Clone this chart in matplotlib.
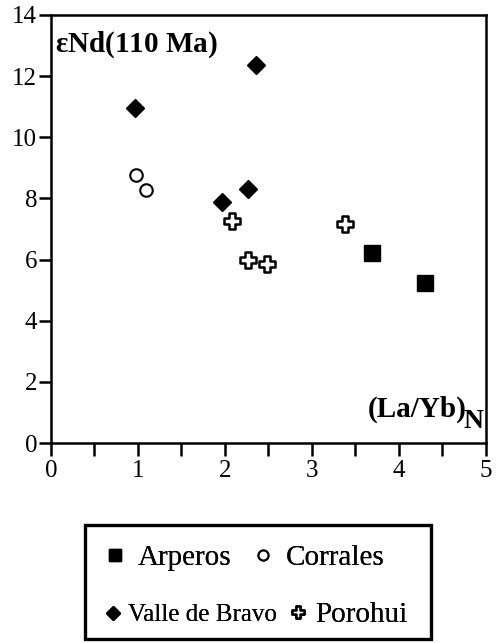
import numpy as np
import matplotlib.pyplot as plt
from matplotlib.path import Path
from matplotlib.patches import Rectangle

plt.rcParams['font.family'] = ['Liberation Serif', 'DejaVu Serif']

# data
arperos_x = [3.69, 4.30]
arperos_y = [6.20, 5.24]
corrales_x = [0.98, 1.09]
corrales_y = [8.77, 8.28]
valle_x = [0.97, 2.36, 1.97, 2.27]
valle_y = [10.97, 12.36, 7.89, 8.30]
porohui_x = [2.08, 2.27, 2.48, 3.38]
porohui_y = [7.25, 5.99, 5.85, 7.16]

# plus-shaped marker
a, b = 0.35, 1.0
verts = [(-a, b), (a, b), (a, a), (b, a), (b, -a), (a, -a), (a, -b), (-a, -b),
         (-a, -a), (-b, -a), (-b, a), (-a, a), (-a, b)]
plus = Path(verts, closed=True)

fig = plt.figure(figsize=(4.96, 6.43), dpi=100)
ax = fig.add_axes([0.1028, 0.311, 0.877, 0.6657])

h1, = ax.plot(arperos_x, arperos_y, 's', color='black', ms=11, ls='none', label='Arperos')
h2, = ax.plot(corrales_x, corrales_y, 'o', mfc='white', mec='black', mew=1.5, ms=9, ls='none', label='Corrales')
h3, = ax.plot(valle_x, valle_y, 'D', color='black', ms=9, ls='none', label='Valle de Bravo')
h4, = ax.plot(porohui_x, porohui_y, marker=plus, mfc='white', mec='black', mew=1.8, ms=11, ls='none', label='Porohui')

ax.set_xlim(0, 5)
ax.set_ylim(0, 14)
ax.set_xticks(np.arange(0, 6, 1))
ax.set_xticks(np.arange(0.5, 5, 1), minor=True)
ax.set_yticks(np.arange(0, 15, 2))
for s in ax.spines.values():
    s.set_linewidth(1.8)
ax.tick_params(axis='both', which='both', direction='out', width=1.8, length=9, labelsize=18)
ax.tick_params(axis='y', pad=1)
ax.tick_params(axis='x', pad=3)

ax.text(0.01, 0.93, r'$\mathregular{\varepsilon}$Nd(110 Ma)', transform=ax.transAxes,
        fontsize=21, fontweight='bold', va='center', ha='left')
ax.text(0.955, 0.078, '(La/Yb)', transform=ax.transAxes,
        fontsize=21, fontweight='bold', va='center', ha='right')
ax.text(0.995, 0.05, 'N', transform=ax.transAxes,
        fontsize=20, fontweight='bold', va='center', ha='right')

# legend: one small legend per entry, inside a single frame
entries = [(h1, 'Arperos', 100, 558, 21, 0.3),
           (h2, 'Corrales', 248, 558, 21, 0.3),
           (h3, 'Valle de Bravo', 100, 615, 18, 0.1),
           (h4, 'Porohui', 283, 615, 21, 0.12)]
W, H = 496, 643
for h, lab, px, py, fs, pad in entries:
    leg = fig.legend([h], [lab], loc='center left', bbox_to_anchor=(px / W, 1 - py / H),
                     fontsize=fs, frameon=False, handletextpad=pad, handlelength=1.0,
                     borderpad=0, borderaxespad=0, markerscale=0.8)
    fig.add_artist(leg)
fig.add_artist(Rectangle((0.171, 0.006), 0.698, 0.177, transform=fig.transFigure,
                         fill=False, edgecolor='black', linewidth=2.4))

fig.savefig('out.png', dpi=100)
